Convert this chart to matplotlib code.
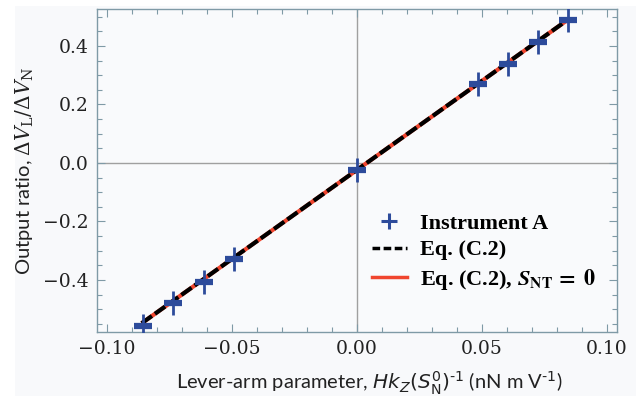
import matplotlib
matplotlib.use("Agg")
import matplotlib.pyplot as plt
from matplotlib.patches import Rectangle
from matplotlib.lines import Line2D
from matplotlib.ticker import MultipleLocator, FuncFormatter

# ---- data ----
x_inst = [-0.0855, -0.0735, -0.061, -0.049, 0.0, 0.0485, 0.0605, 0.0725, 0.0845]
y_inst = [-0.557, -0.479, -0.407, -0.328, -0.024, 0.270, 0.338, 0.414, 0.489]
eq_x = [-0.086, 0.0853]
eq_y = [-0.548, 0.495]
eq0_x = [-0.086, 0.0853]
eq0_y = [-0.548, 0.495]
x_ticks = [-0.10, -0.05, 0.00, 0.05, 0.10]
y_ticks = [-0.4, -0.2, 0.0, 0.2, 0.4]

blue = "#2d4b9b"
red = "#f0452e"
spine_c = "#7f9aa6"


def fmt(decimals):
    def f(v, pos):
        s = f"{abs(v):.{decimals}f}"
        return ("\u2212" + s) if v < -1e-12 else s
    return FuncFormatter(f)


fig = plt.figure(figsize=(6.36, 3.96), dpi=100, facecolor="white")
fig.patches.append(Rectangle((15/636, 0), 1 - 15/636, 1 - 6/396, transform=fig.transFigure,
                             facecolor="#f8f9fb", edgecolor="none", zorder=-10))
ax = fig.add_axes([96.7/636, 1 - 332/396, 520/636, 323/396])
ax.set_facecolor("#f9fafc")

ax.axhline(0, color="#a0a0a0", lw=1.0, zorder=1)
ax.axvline(0, color="#a0a0a0", lw=1.0, zorder=1)

ax.plot(eq0_x, eq0_y, color=red, lw=3.0, solid_capstyle="butt", zorder=2)
ax.plot(eq_x, eq_y, color="black", lw=3.0, dashes=(3.0, 0.9), zorder=3)
ax.plot(x_inst, y_inst, linestyle="none", marker="_", ms=13, mew=4.5, color=blue, zorder=4)
ax.plot(x_inst, y_inst, linestyle="none", marker="|", ms=17, mew=2.0, color=blue, zorder=4)

ax.set_xlim(-0.104, 0.104)
ax.set_ylim(-0.578, 0.5265)
ax.set_xticks(x_ticks)
ax.set_yticks(y_ticks)
ax.xaxis.set_minor_locator(MultipleLocator(0.01))
ax.yaxis.set_minor_locator(MultipleLocator(0.05))
ax.xaxis.set_major_formatter(fmt(2))
ax.yaxis.set_major_formatter(fmt(1))
ax.tick_params(which="both", direction="in", top=True, right=True, color=spine_c, width=0.8)
ax.tick_params(which="major", length=6, labelsize=13.5, pad=6)
ax.tick_params(which="minor", length=3.5)
for lab in ax.get_xticklabels() + ax.get_yticklabels():
    lab.set_fontfamily("DejaVu Serif")
    lab.set_color("#222222")
for s in ax.spines.values():
    s.set_color(spine_c)
    s.set_linewidth(1.0)

ax.set_xlabel(r"Lever-arm parameter, $Hk_Z(S_{\rm N}^0)^{\text{-1}}$ (nN m V$^{\text{-1}}$)",
              fontfamily="Lato", fontsize=14.5, math_fontfamily="dejavusans", color="#222222")
ax.xaxis.set_label_coords(0.525, -0.115)
ax.set_ylabel(r"Output ratio, $\Delta V_{\rm L}/\Delta V_{\rm N}$",
              fontfamily="Lato", fontsize=14.5, math_fontfamily="dejavuserif", labelpad=5, color="#222222")

handles = [
    Line2D([], [], linestyle="none", marker="+", ms=12, mew=2.2, color=blue),
    Line2D([], [], color="black", lw=2.5, dashes=(2.2, 1.0)),
    Line2D([], [], color=red, lw=2.5),
]
labels = ["Instrument A", "Eq. (C.2)", r"Eq. (C.2), $\boldsymbol{S}_{\mathbf{NT}}\,\mathbf{=\ 0}$"]
leg = ax.legend(handles, labels, loc="upper left", bbox_to_anchor=(0.49, 0.43), frameon=False,
                handlelength=1.6, handletextpad=0.6, labelspacing=0.28,
                prop={"family": "Liberation Serif", "weight": "bold", "size": 16})
for t in leg.get_texts():
    t.set_math_fontfamily("stix")

fig.savefig("out.png", dpi=100, facecolor=fig.get_facecolor())
